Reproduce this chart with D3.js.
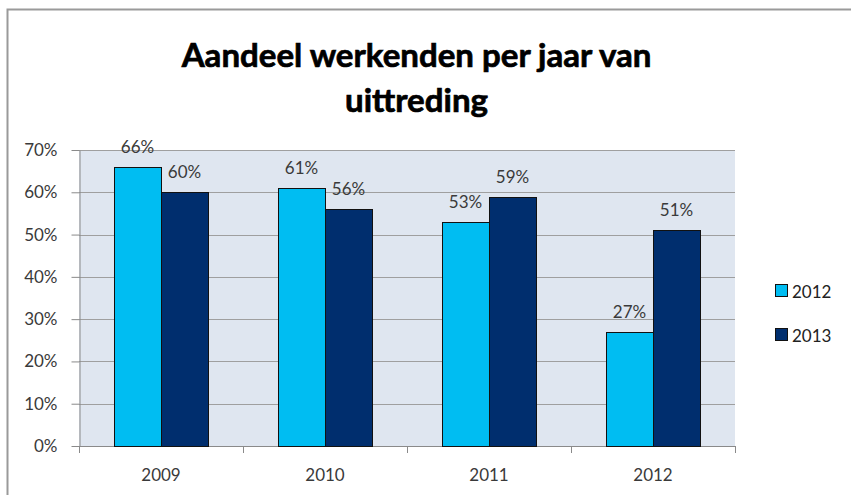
<!DOCTYPE html>
<html><head><meta charset="utf-8">
<script src="https://cdn.jsdelivr.net/npm/d3@7"></script>
<style>body{margin:0;background:#fff}svg{display:block}text{font-family:Lato,"Open Sans",sans-serif}</style>
</head><body><svg id="c" width="851" height="495"></svg>
<script>
const titleLines = ["Aandeel werkenden per jaar van", "uittreding"];
const categories = ["2009", "2010", "2011", "2012"];
const seriesNames = ["2012", "2013"];
const values2012 = [0.66, 0.61, 0.53, 0.27];
const values2013 = [0.60, 0.56, 0.59, 0.51];
const yTicks = [0, 0.1, 0.2, 0.3, 0.4, 0.5, 0.6, 0.7];
const colors = ["#00BDF2", "#002E6E"];

const seriesValues = [values2012, values2013];
const svg = d3.select("#c");

// outer frame
svg.append("path").attr("d","M7.5,495 V9.5 H851").attr("fill","none").attr("stroke","#9a9a9a").attr("stroke-width",2);

const plot = {left:79, right:735, top:150, bottom:446};
const y = d3.scaleLinear().domain([0,0.7]).range([plot.bottom, plot.top]);
const pi = 0.4268;
const x0 = d3.scaleBand().domain(categories).range([plot.left, plot.right]).paddingInner(pi).paddingOuter(pi/2);
const x1 = d3.scaleBand().domain(seriesNames).range([0, x0.bandwidth()]);

// plot background
svg.append("rect").attr("x",plot.left).attr("y",plot.top).attr("width",plot.right-plot.left).attr("height",plot.bottom-plot.top).attr("fill","#DFE6F0");

// gridlines
svg.append("g").selectAll("line").data(yTicks.filter(d=>d>0)).join("line")
  .attr("x1",plot.left).attr("x2",plot.right).attr("y1",d=>Math.round(y(d))+0.5).attr("y2",d=>Math.round(y(d))+0.5)
  .attr("stroke","#9f9f9f").attr("stroke-width",1);

// y axis
const ya = svg.append("g").attr("transform",`translate(${plot.left+0.5},0)`)
  .call(d3.axisLeft(y).tickValues(yTicks).tickFormat(d3.format(".0%")).tickSize(8).tickSizeOuter(0).tickPadding(14));
ya.selectAll("path,line").attr("stroke","#8a8a8a");
ya.selectAll("text").attr("font-size",17).attr("fill","#3a3a3a").attr("font-family","Lato");

// x axis line and boundary ticks
const step = x0.step();
const bounds = categories.map(c => x0(c) - (step - x0.bandwidth())/2).concat([plot.right]);
svg.append("line").attr("x1",plot.left).attr("x2",plot.right).attr("y1",plot.bottom+0.5).attr("y2",plot.bottom+0.5).attr("stroke","#8a8a8a");
svg.append("g").selectAll("line").data(bounds).join("line")
  .attr("x1",d=>Math.round(d)+0.5).attr("x2",d=>Math.round(d)+0.5).attr("y1",plot.bottom).attr("y2",plot.bottom+7).attr("stroke","#8a8a8a");
svg.append("g").selectAll("text").data(categories).join("text")
  .attr("x",d=>x0(d)+x0.bandwidth()/2).attr("y",481).attr("text-anchor","middle")
  .attr("font-size",17).attr("fill","#3a3a3a").text(d=>d);

// bars
const groups = svg.append("g").selectAll("g").data(categories).join("g")
  .attr("transform",d=>`translate(${x0(d)},0)`);
groups.selectAll("rect").data((d,i)=>seriesNames.map((s,j)=>({s,j,v:seriesValues[j][i]}))).join("rect")
  .attr("x",d=>x1(d.s)+0.5).attr("width",x1.bandwidth())
  .attr("y",d=>Math.round(y(d.v))+0.5).attr("height",d=>plot.bottom-Math.round(y(d.v)))
  .attr("fill",d=>colors[d.j]).attr("stroke","#111").attr("stroke-width",1);
groups.selectAll("text").data((d,i)=>seriesNames.map((s,j)=>({s,j,v:seriesValues[j][i]}))).join("text")
  .attr("x",d=>x1(d.s)+x1.bandwidth()/2).attr("y",d=>y(d.v)-14).attr("text-anchor","middle")
  .attr("font-size",17).attr("fill","#3a3a3a").text(d=>d3.format(".0%")(d.v));

// legend
const lg = svg.append("g").selectAll("g").data(seriesNames).join("g")
  .attr("transform",(d,i)=>`translate(775,${284+i*44})`);
lg.append("rect").attr("x",0.5).attr("y",0.5).attr("width",12).attr("height",12).attr("fill",(d,i)=>colors[i]).attr("stroke","#111");
lg.append("text").attr("x",17).attr("y",13.5).attr("font-size",17).attr("fill","#222").text(d=>d);

// title
const tt = svg.append("g");
const t1 = tt.append("text").attr("x",416.5).attr("y",67).attr("text-anchor","middle").attr("font-weight",700).attr("font-size",32).attr("fill","#000").text(titleLines[0]);
const w = t1.node().getComputedTextLength();
const fs = 32*470/w;
t1.attr("font-size",fs);
tt.append("text").attr("x",416.5).attr("y",112).attr("text-anchor","middle").attr("font-weight",700).attr("font-size",fs).attr("fill","#000").text(titleLines[1]);
tt.selectAll("text").attr("stroke","#000").attr("stroke-width",0.7);
</script></body></html>
